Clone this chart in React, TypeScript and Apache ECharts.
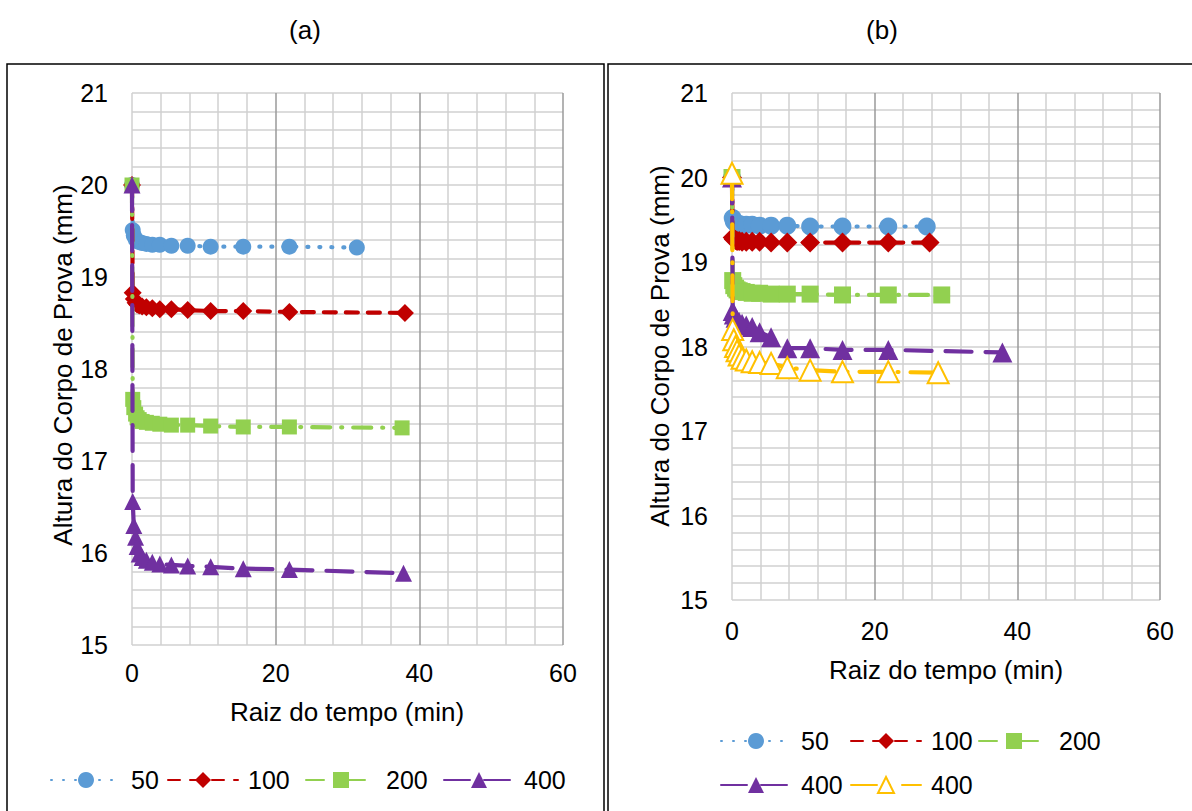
import React, { useEffect, useRef } from 'react';
import * as echarts from 'echarts';

// square root of time (min) readings
const rootTime = [0, 0.1, 0.25, 0.5, 0.71, 1, 1.41, 2, 2.83, 3.87, 5.48, 7.75, 10.95, 15.49, 21.91];

// last reading (sqrt min) of each series
const lastA50 = 31.3;
const lastA100 = 38.0;
const lastA200 = 37.6;
const lastA400 = 37.8;
const lastB50 = 27.3;
const lastB100 = 27.7;
const lastB200 = 29.4;
const lastB400 = 37.9;
const lastB400y = 28.9;

// (a) heights (mm)
const a50 = [20, 19.51, 19.45, 19.41, 19.39, 19.38, 19.37, 19.36, 19.35, 19.35, 19.34, 19.34, 19.33, 19.33, 19.33, 19.32];
const a100 = [20, 18.83, 18.76, 18.72, 18.7, 18.69, 18.68, 18.67, 18.66, 18.65, 18.65, 18.64, 18.63, 18.63, 18.62, 18.61];
const a200 = [20, 17.67, 17.58, 17.51, 17.47, 17.45, 17.43, 17.42, 17.41, 17.4, 17.39, 17.39, 17.38, 17.37, 17.37, 17.36];
const a400 = [20, 16.56, 16.3, 16.17, 16.07, 15.99, 15.95, 15.92, 15.9, 15.88, 15.87, 15.86, 15.85, 15.83, 15.82, 15.78];

// (b) heights (mm)
const b50 = [20, 19.52, 19.48, 19.46, 19.45, 19.45, 19.44, 19.44, 19.44, 19.43, 19.43, 19.43, 19.42, 19.42, 19.42, 19.42];
const b100 = [20, 19.29, 19.27, 19.26, 19.25, 19.25, 19.24, 19.24, 19.24, 19.24, 19.23, 19.23, 19.23, 19.23, 19.23, 19.23];
const b200 = [20, 18.78, 18.72, 18.69, 18.67, 18.66, 18.65, 18.64, 18.63, 18.63, 18.62, 18.62, 18.62, 18.61, 18.61, 18.61];
const b400 = [20, 18.42, 18.38, 18.34, 18.31, 18.29, 18.27, 18.25, 18.23, 18.17, 18.11, 17.98, 17.98, 17.96, 17.96, 17.93];
const b400y = [20.05, 18.2, 18.08, 18.0, 17.95, 17.9, 17.86, 17.84, 17.82, 17.81, 17.8, 17.75, 17.72, 17.7, 17.7, 17.69];

const xTicks = { min: 0, max: 60, interval: 20 };
const yTicks = { min: 15, max: 21, interval: 1 };

const legendLabels: Record<string, string> = {
  a50: '50', a100: '100', a200: '200', a400: '400',
  b50: '50', b100: '100', b200: '200', b400: '400', b400y: '400',
};

const FONT = "'Liberation Sans', Arial, sans-serif";
const C50 = '#5B9BD5';
const C100 = '#C00000';
const C200 = '#92D050';
const C400 = '#7030A0';
const C400Y = '#FFC000';

function pts(last: number, ys: number[]) {
  const xs = [...rootTime, last];
  return ys.map((y, i) => [xs[i], y]);
}

function line(name: string, g: number, data: number[][], color: string, dash: number[], symbol: string, size: number, z: number) {
  const empty = symbol.startsWith('empty');
  return {
    name,
    type: 'line',
    xAxisIndex: g,
    yAxisIndex: g,
    data,
    clip: false,
    z,
    symbol,
    symbolSize: size,
    showSymbol: true,
    itemStyle: empty ? { color, borderColor: color, borderWidth: 4 } : { color },
    lineStyle: { color, width: 4.2, type: dash, cap: 'round', join: 'round' },
    emphasis: { disabled: true },
  };
}

function xAxis(g: number, margin: number) {
  return {
    type: 'value', gridIndex: g, ...xTicks,
    axisLine: { show: false }, axisTick: { show: false },
    axisLabel: { fontSize: 25, color: '#000', fontFamily: FONT, margin },
    splitLine: { show: true, lineStyle: { color: ['#D0D0D0', '#9A9A9A', '#9A9A9A', '#9A9A9A'], width: 1.5 } },
    minorTick: { show: false, splitNumber: 5 },
    minorSplitLine: { show: true, lineStyle: { color: '#D0D0D0', width: 1.5 } },
  };
}

function yAxis(g: number) {
  return {
    type: 'value', gridIndex: g, ...yTicks,
    axisLine: { show: false }, axisTick: { show: false },
    axisLabel: { fontSize: 25, color: '#000', fontFamily: FONT, margin: 24 },
    splitLine: { show: true, lineStyle: { color: '#D0D0D0', width: 1.5 } },
    minorTick: { show: false, splitNumber: 5 },
    minorSplitLine: { show: true, lineStyle: { color: '#D0D0D0', width: 1.5 } },
  };
}

const legendPlaces = [
  { name: 'a50', left: 50, top: 765 },
  { name: 'a100', left: 167, top: 765 },
  { name: 'a200', left: 305, top: 765 },
  { name: 'a400', left: 443, top: 765 },
  { name: 'b50', left: 720, top: 726 },
  { name: 'b100', left: 850, top: 726 },
  { name: 'b200', left: 978, top: 726 },
  { name: 'b400', left: 720, top: 770 },
  { name: 'b400y', left: 850, top: 770 },
];

function buildOption() {
  const txt = (text: string, x: number, y: number, size: number, rotation = 0) => ({
    type: 'text', x, y, rotation,
    style: { text, fontSize: size, fontFamily: FONT, fill: '#000', align: 'center', verticalAlign: 'middle' },
  });
  return {
    animation: false,
    backgroundColor: '#fff',
    textStyle: { fontFamily: FONT },
    grid: [
      { left: 132, top: 93, width: 431, height: 552 },
      { left: 732, top: 93, width: 428, height: 507 },
    ],
    xAxis: [xAxis(0, 15), xAxis(1, 18)],
    yAxis: [yAxis(0), yAxis(1)],
    legend: legendPlaces.map((l) => ({
      data: [l.name], left: l.left, top: l.top, padding: 0,
      itemWidth: 70, itemHeight: 20, selectedMode: false,
      formatter: () => legendLabels[l.name],
      textStyle: { fontSize: 25, color: '#000', fontFamily: FONT, lineHeight: 30, padding: [0, 0, 0, 5] },
    })),
    graphic: [
      { type: 'rect', shape: { x: 7, y: 64, width: 597, height: 800 }, style: { fill: 'none', stroke: '#000', lineWidth: 1.5 } },
      { type: 'polyline', shape: { points: [[1200, 64], [608, 64], [608, 830]] }, style: { fill: 'none', stroke: '#000', lineWidth: 1.5 } },
      txt('(a)', 305, 30, 26),
      txt('(b)', 882, 30, 26),
      txt('Raiz do tempo (min)', 347, 712, 26),
      txt('Raiz do tempo (min)', 946, 670, 26),
      txt('Altura do Corpo de Prova (mm)', 63, 365, 26, Math.PI / 2),
      txt('Altura do Corpo de Prova (mm)', 660, 346, 26, Math.PI / 2),
    ],
    series: [
      line('a50', 0, pts(lastA50, a50), C50, [1, 11], 'circle', 16, 2),
      line('a100', 0, pts(lastA100, a100), C100, [12, 10], 'diamond', 18, 3),
      line('a200', 0, pts(lastA200, a200), C200, [18, 11, 1, 11], 'rect', 15, 4),
      line('a400', 0, pts(lastA400, a400), C400, [26, 14], 'triangle', 17, 5),
      line('b50', 1, pts(lastB50, b50), C50, [1, 11], 'circle', 18, 2),
      line('b100', 1, pts(lastB100, b100), C100, [12, 10], 'diamond', 20, 3),
      line('b200', 1, pts(lastB200, b200), C200, [18, 11, 1, 11], 'rect', 17, 4),
      line('b400', 1, pts(lastB400, b400), C400, [26, 14], 'triangle', 20, 5),
      line('b400y', 1, pts(lastB400y, b400y), C400Y, [26, 12, 1, 12], 'emptyTriangle', 21, 6),
    ],
  };
}

export default function App() {
  const ref = useRef<HTMLDivElement>(null);
  useEffect(() => {
    if (!ref.current) return;
    const chart = echarts.init(ref.current, undefined, { renderer: 'svg', width: 1192, height: 811 });
    chart.setOption(buildOption() as any);
    return () => chart.dispose();
  }, []);
  return (
    <div
      ref={ref}
      style={{ position: 'absolute', left: 0, top: 0, width: 1192, height: 811, background: '#fff' }}
    />
  );
}
